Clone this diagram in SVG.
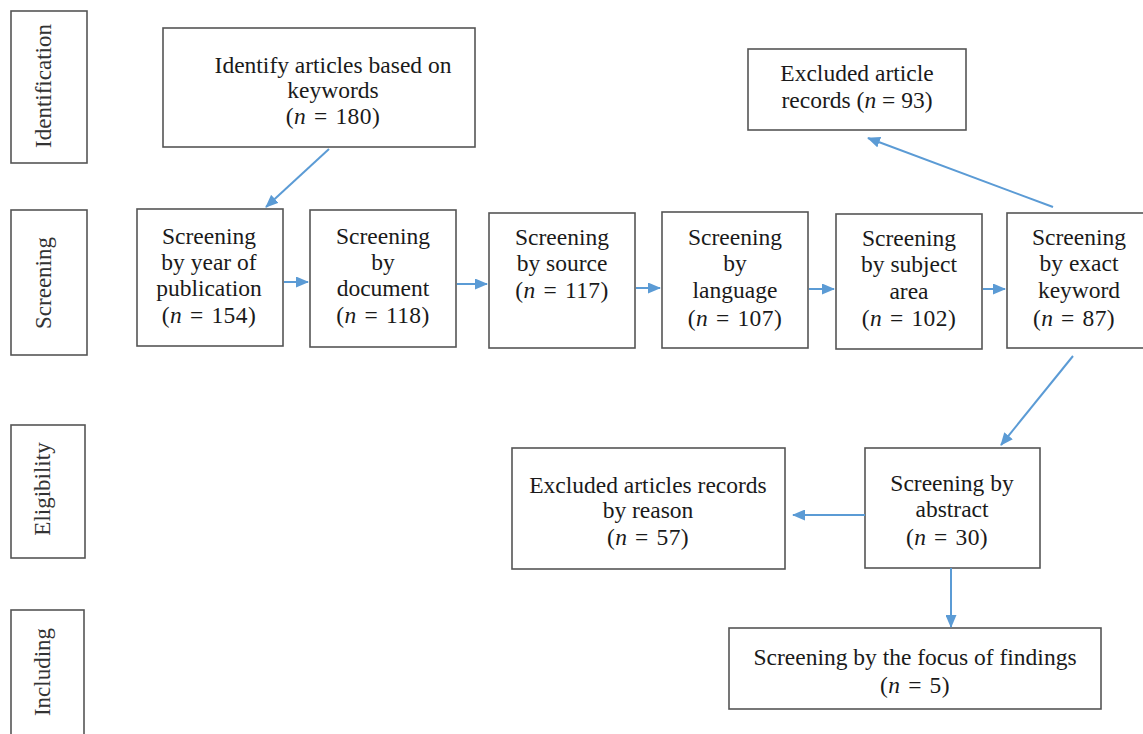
<svg xmlns="http://www.w3.org/2000/svg" width="1143" height="734" viewBox="0 0 1143 734">
  <style>
    .box { fill: #ffffff; stroke: #555555; stroke-width: 1.6; }
    .t { font-family: "Liberation Serif", "Times New Roman", serif; font-size: 23.5px; fill: #1a1a1a; text-anchor: middle; }
    .m { word-spacing: 1.5px; letter-spacing: 0.4px; }
    .side { font-family: "Liberation Serif", "Times New Roman", serif; font-size: 23px; fill: #333333; text-anchor: middle; dominant-baseline: central; }
    .n { font-style: italic; }
    .arrow { stroke: #5b9bd5; stroke-width: 2; fill: none; marker-end: url(#head); }
  </style>
  <defs>
    <marker id="head" viewBox="0 0 13 11" refX="12" refY="5.5" markerWidth="13" markerHeight="11" markerUnits="userSpaceOnUse" orient="auto">
      <path d="M0,0 L13,5.5 L0,11 Z" fill="#5b9bd5"/>
    </marker>
  </defs>
  <rect width="1143" height="734" fill="#ffffff"/>

  <!-- stage labels -->
  <g id="stage-identification">
    <rect class="box" x="11" y="11" width="76" height="152"/>
    <text class="side" transform="translate(43 86) rotate(-90)">Identification</text>
  </g>
  <g id="stage-screening">
    <rect class="box" x="11" y="210" width="76" height="145"/>
    <text class="side" transform="translate(43 283) rotate(-90)">Screening</text>
  </g>
  <g id="stage-eligibility">
    <rect class="box" x="11" y="425" width="74" height="133"/>
    <text class="side" transform="translate(42 489) rotate(-90)">Eligibility</text>
  </g>
  <g id="stage-including">
    <rect class="box" x="11" y="610" width="73" height="130"/>
    <text class="side" transform="translate(42 672) rotate(-90)">Including</text>
  </g>

  <!-- process boxes -->
  <g id="identify">
    <rect class="box" x="163" y="28" width="312" height="119"/>
    <text class="t" x="333" y="73">Identify articles based on</text>
    <text class="t" x="333" y="98">keywords</text>
    <text class="t m" x="333" y="124">(<tspan class="n">n</tspan> = 180)</text>
  </g>
  <g id="year">
    <rect class="box" x="137" y="209" width="146" height="137"/>
    <text class="t" x="209" y="244">Screening</text>
    <text class="t" x="209" y="270">by year of</text>
    <text class="t" x="209" y="296">publication</text>
    <text class="t m" x="209" y="323">(<tspan class="n">n</tspan> = 154)</text>
  </g>
  <g id="document">
    <rect class="box" x="310" y="210" width="146" height="137"/>
    <text class="t" x="383" y="244">Screening</text>
    <text class="t" x="383" y="270">by</text>
    <text class="t" x="383" y="296">document</text>
    <text class="t m" x="383" y="323">(<tspan class="n">n</tspan> = 118)</text>
  </g>
  <g id="source">
    <rect class="box" x="489" y="213" width="146" height="135"/>
    <text class="t" x="562" y="245">Screening</text>
    <text class="t" x="562" y="271">by source</text>
    <text class="t m" x="562" y="298">(<tspan class="n">n</tspan> = 117)</text>
  </g>
  <g id="language">
    <rect class="box" x="662" y="212" width="146" height="136"/>
    <text class="t" x="735" y="245">Screening</text>
    <text class="t" x="735" y="271">by</text>
    <text class="t" x="735" y="298">language</text>
    <text class="t m" x="735" y="326">(<tspan class="n">n</tspan> = 107)</text>
  </g>
  <g id="subject">
    <rect class="box" x="836" y="214" width="146" height="135"/>
    <text class="t" x="909" y="246">Screening</text>
    <text class="t" x="909" y="272">by subject</text>
    <text class="t" x="909" y="299">area</text>
    <text class="t m" x="909" y="326">(<tspan class="n">n</tspan> = 102)</text>
  </g>
  <g id="keyword">
    <rect class="box" x="1007" y="213" width="140" height="135"/>
    <text class="t" x="1079" y="245">Screening</text>
    <text class="t" x="1079" y="271">by exact</text>
    <text class="t" x="1079" y="298">keyword</text>
    <text class="t m" x="1074" y="326">(<tspan class="n">n</tspan> = 87)</text>
  </g>
  <g id="excluded-93">
    <rect class="box" x="748" y="49" width="218" height="81"/>
    <text class="t" x="857" y="81">Excluded article</text>
    <text class="t" x="857" y="108">records (<tspan class="n">n</tspan> = 93)</text>
  </g>
  <g id="abstract">
    <rect class="box" x="865" y="448" width="175" height="120"/>
    <text class="t" x="952" y="491">Screening by</text>
    <text class="t" x="952" y="517">abstract</text>
    <text class="t m" x="947" y="545">(<tspan class="n">n</tspan> = 30)</text>
  </g>
  <g id="excluded-57">
    <rect class="box" x="512" y="448" width="273" height="121"/>
    <text class="t" x="648" y="493">Excluded articles records</text>
    <text class="t" x="648" y="518">by reason</text>
    <text class="t m" x="648" y="545">(<tspan class="n">n</tspan> = 57)</text>
  </g>
  <g id="findings">
    <rect class="box" x="729" y="628" width="372" height="81"/>
    <text class="t" x="915" y="665">Screening by the focus of findings</text>
    <text class="t m" x="915" y="693">(<tspan class="n">n</tspan> = 5)</text>
  </g>

  <!-- connectors -->
  <g id="connectors">
    <line class="arrow" x1="329" y1="149" x2="266" y2="207"/>
    <line class="arrow" x1="284" y1="282" x2="308" y2="282"/>
    <line class="arrow" x1="457" y1="284" x2="487" y2="284"/>
    <line class="arrow" x1="636" y1="288" x2="660" y2="288"/>
    <line class="arrow" x1="809" y1="289" x2="834" y2="289"/>
    <line class="arrow" x1="983" y1="289" x2="1005" y2="289"/>
    <line class="arrow" x1="1053" y1="207" x2="868" y2="138"/>
    <line class="arrow" x1="1073" y1="356" x2="1001" y2="445"/>
    <line class="arrow" x1="865" y1="515" x2="793" y2="515"/>
    <line class="arrow" x1="951" y1="568" x2="951" y2="627"/>
  </g>
</svg>
